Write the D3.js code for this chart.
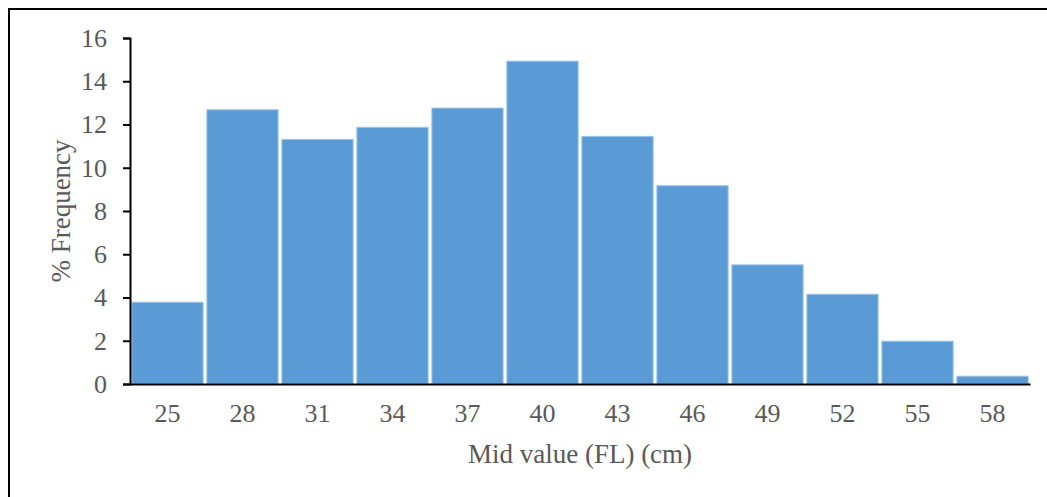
<!DOCTYPE html>
<html>
<head>
<meta charset="utf-8">
<script src="https://cdn.jsdelivr.net/npm/d3@7"></script>
<style>
  body { margin: 0; background: #fff; }
  text { font-family: "Liberation Serif", "Times New Roman", serif; fill: #595959; }
</style>
</head>
<body>
<div id="chart"></div>
<script>
const midValues = ["25", "28", "31", "34", "37", "40", "43", "46", "49", "52", "55", "58"];
const frequency = [3.78, 12.68, 11.31, 11.87, 12.76, 14.93, 11.45, 9.17, 5.51, 4.15, 1.98, 0.36];
const yTicks = [0, 2, 4, 6, 8, 10, 12, 14, 16];

const width = 1047;
const height = 497;
const margin = {top: 38, right: 17, bottom: 113, left: 130};

const svg = d3.select("#chart").append("svg")
    .attr("width", width)
    .attr("height", height);

// outer frame (runs off right and bottom edge like the original)
svg.append("rect")
    .attr("x", 9).attr("y", 9)
    .attr("width", width + 20).attr("height", height + 20)
    .attr("fill", "none")
    .attr("stroke", "#000")
    .attr("stroke-width", 2);

const x = d3.scaleBand()
    .domain(midValues)
    .range([margin.left, width - margin.right])
    .paddingInner(0.05)
    .paddingOuter(0.025);

const y = d3.scaleLinear()
    .domain([0, 16])
    .range([height - margin.bottom, margin.top]);

svg.append("g")
    .selectAll("rect")
    .data(frequency)
    .enter().append("rect")
    .attr("x", (d, i) => x(midValues[i]))
    .attr("y", d => y(d))
    .attr("width", x.bandwidth())
    .attr("height", d => y(0) - y(d))
    .attr("fill", "#5B9BD5")
    .attr("stroke", "#9DC3E6")
    .attr("stroke-width", 1);

// y axis
const yAxis = svg.append("g")
    .attr("transform", `translate(${margin.left},0)`)
    .call(d3.axisLeft(y).tickValues(yTicks).tickSize(7).tickPadding(16));
yAxis.select(".domain").attr("stroke", "#000").attr("stroke-width", 2);
yAxis.selectAll(".tick line").attr("stroke", "#000").attr("stroke-width", 2);
yAxis.selectAll(".tick text")
    .attr("fill", "#595959")
    .style("font-size", "26px");

// x axis
const xAxis = svg.append("g")
    .attr("transform", `translate(0,${y(0)})`)
    .call(d3.axisBottom(x).tickSize(0).tickPadding(20));
xAxis.select(".domain").attr("stroke", "#000").attr("stroke-width", 2);
xAxis.selectAll(".tick text")
    .attr("fill", "#595959")
    .style("font-size", "26px");

svg.append("text")
    .attr("x", (margin.left + width - margin.right) / 2)
    .attr("y", 463)
    .attr("text-anchor", "middle")
    .style("font-size", "27px")
    .text("Mid value (FL) (cm)");

svg.append("text")
    .attr("transform", `translate(70,${(y(0) + y(16)) / 2}) rotate(-90)`)
    .attr("text-anchor", "middle")
    .style("font-size", "27px")
    .text("% Frequency");
</script>
</body>
</html>
